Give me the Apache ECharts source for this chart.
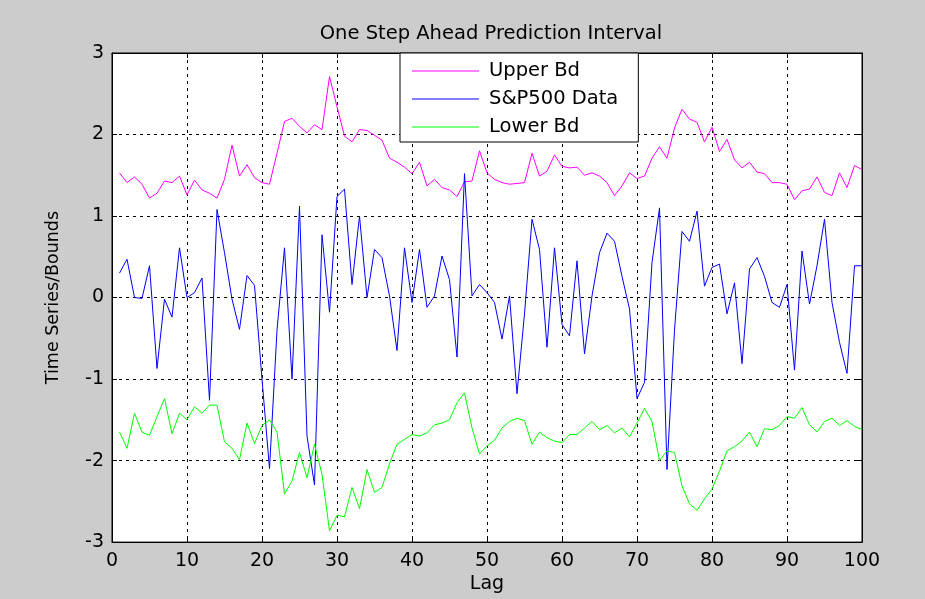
<!DOCTYPE html>
<html>
<head>
<meta charset="utf-8">
<script src="https://cdn.jsdelivr.net/npm/echarts@6/dist/echarts.min.js"></script>
<style>
  html, body { margin: 0; padding: 0; background: #cccccc; }
  #chart { width: 925px; height: 599px; }
</style>
</head>
<body>
<div id="chart"></div>
<script>
// x ticks / y ticks
const xTicks = [0, 10, 20, 30, 40, 50, 60, 70, 80, 90, 100];
const yTicks = [-3, -2, -1, 0, 1, 2, 3];
const seriesNames = ["Upper Bd", "S&P500 Data", "Lower Bd"];

// values, lag 1..100
const upperBd = [
  1.53, 1.41, 1.48, 1.39, 1.22, 1.28, 1.43, 1.41, 1.49, 1.26,
  1.44, 1.32, 1.28, 1.22, 1.45, 1.87, 1.49, 1.63, 1.47, 1.41,
  1.39, 1.77, 2.16, 2.20, 2.10, 2.02, 2.12, 2.06, 2.71, 2.34,
  1.98, 1.91, 2.06, 2.05, 1.99, 1.93, 1.71, 1.66, 1.60, 1.52,
  1.66, 1.37, 1.45, 1.35, 1.32, 1.24, 1.42, 1.43, 1.80, 1.53,
  1.45, 1.41, 1.39, 1.40, 1.41, 1.77, 1.49, 1.55, 1.75, 1.61,
  1.59, 1.60, 1.50, 1.53, 1.49, 1.41, 1.25, 1.37, 1.53, 1.46,
  1.49, 1.71, 1.85, 1.71, 2.08, 2.31, 2.19, 2.15, 1.91, 2.09,
  1.79, 1.94, 1.69, 1.59, 1.66, 1.54, 1.52, 1.41, 1.41, 1.39,
  1.20, 1.31, 1.33, 1.48, 1.29, 1.25, 1.53, 1.35, 1.62, 1.57
];
const spData = [
  0.30, 0.47, 0.00, -0.01, 0.39, -0.87, -0.02, -0.24, 0.61, 0.00,
  0.06, 0.24, -1.26, 1.08, 0.55, -0.02, -0.39, 0.27, 0.15, -1.00,
  -2.10, -0.40, 0.61, -1.00, 1.12, -1.70, -2.30, 0.77, -0.18, 1.24,
  1.33, 0.16, 1.00, 0.00, 0.59, 0.49, 0.02, -0.65, 0.61, -0.06,
  0.59, -0.12, 0.02, 0.51, 0.22, -0.73, 1.52, 0.02, 0.16, 0.06,
  -0.06, -0.51, 0.02, -1.18, -0.20, 0.96, 0.59, -0.61, 0.61, -0.33,
  -0.47, 0.45, -0.69, 0.02, 0.55, 0.79, 0.69, 0.26, -0.14, -1.24,
  -1.04, 0.43, 1.10, -2.11, -0.40, 0.81, 0.69, 1.06, 0.14, 0.37,
  0.41, -0.20, 0.18, -0.81, 0.35, 0.49, 0.26, -0.06, -0.12, 0.16,
  -0.89, 0.57, -0.08, 0.39, 0.96, -0.06, -0.55, -0.93, 0.39, 0.39
];
const lowerBd = [
  -1.65, -1.85, -1.42, -1.65, -1.69, -1.46, -1.24, -1.67, -1.42, -1.50,
  -1.34, -1.42, -1.32, -1.32, -1.77, -1.85, -1.99, -1.54, -1.79, -1.57,
  -1.50, -1.65, -2.41, -2.25, -1.90, -2.21, -1.80, -2.17, -2.86, -2.67,
  -2.69, -2.33, -2.59, -2.11, -2.39, -2.33, -2.04, -1.80, -1.74, -1.68,
  -1.70, -1.66, -1.56, -1.54, -1.50, -1.29, -1.17, -1.60, -1.92, -1.82,
  -1.75, -1.60, -1.52, -1.48, -1.51, -1.80, -1.65, -1.72, -1.76, -1.78,
  -1.68, -1.68, -1.60, -1.52, -1.62, -1.57, -1.66, -1.60, -1.71, -1.54,
  -1.36, -1.52, -2.00, -1.88, -1.90, -2.31, -2.53, -2.61, -2.47, -2.35,
  -2.13, -1.88, -1.83, -1.76, -1.65, -1.83, -1.61, -1.62, -1.57, -1.46,
  -1.48, -1.35, -1.56, -1.65, -1.52, -1.48, -1.57, -1.51, -1.58, -1.62
];

function pairs(arr) {
  return arr.map((v, i) => [i + 1, v]);
}

const chart = echarts.init(document.getElementById("chart"));
const font = "DejaVu Sans";
const gridLine = { show: true, lineStyle: { color: "#000", type: [3, 4], width: 1 } };

const option = {
  backgroundColor: "#cccccc",
  animation: false,
  title: {
    text: "One Step Ahead Prediction Interval",
    left: 486,
    textAlign: "center",
    top: 19,
    textStyle: { fontFamily: font, fontSize: 19.5, fontWeight: "normal", color: "#000" }
  },
  legend: {
    data: seriesNames,
    orient: "vertical",
    left: 400,
    top: 53,
    padding: [8, 20, 5, 12],
    itemGap: 8,
    itemWidth: 67,
    itemHeight: 1,
    icon: "rect",
    backgroundColor: "#fff",
    borderColor: "#000",
    borderWidth: 1,
    textStyle: { fontFamily: font, fontSize: 19.5, color: "#000", padding: [0, 0, 0, 5] }
  },
  grid: { left: 112, right: 63, top: 53, bottom: 54, show: true, borderColor: "#000", borderWidth: 1, backgroundColor: "#fff" },
  xAxis: [
    {
      type: "value", min: 0, max: 100, interval: 10,
      name: "Lag", nameLocation: "middle", nameGap: 29,
      nameTextStyle: { fontFamily: font, fontSize: 19, color: "#000" },
      axisLine: { onZero: false, lineStyle: { color: "#000" } },
      axisTick: { inside: true, length: 5, lineStyle: { color: "#000" } },
      axisLabel: { margin: 9, fontFamily: font, fontSize: 19, color: "#000",
        formatter: v => xTicks.indexOf(v) >= 0 ? String(v) : "" },
      splitLine: gridLine
    },
    {
      type: "value", min: 0, max: 100, interval: 10, position: "top",
      axisLine: { onZero: false, lineStyle: { color: "#000" } },
      axisTick: { inside: true, length: 5, lineStyle: { color: "#000" } },
      axisLabel: { show: false }, splitLine: { show: false }
    }
  ],
  yAxis: [
    {
      type: "value", min: -3, max: 3, interval: 1,
      name: "Time Series/Bounds", nameLocation: "middle", nameGap: 50,
      nameTextStyle: { fontFamily: font, fontSize: 17.5, color: "#000" },
      axisLine: { show: true, onZero: false, lineStyle: { color: "#000" } },
      axisTick: { show: true, inside: true, length: 5, lineStyle: { color: "#000" } },
      axisLabel: { margin: 8, fontFamily: font, fontSize: 19, color: "#000",
        formatter: v => yTicks.indexOf(v) >= 0 ? String(v) : "" },
      splitLine: gridLine
    },
    {
      type: "value", min: -3, max: 3, interval: 1, position: "right",
      axisLine: { show: true, onZero: false, lineStyle: { color: "#000" } },
      axisTick: { show: true, inside: true, length: 5, lineStyle: { color: "#000" } },
      axisLabel: { show: false }, splitLine: { show: false }
    }
  ],
  color: ["#ff00ff", "#0000ff", "#00ff00"],
  series: [
    { name: seriesNames[0], type: "line", symbol: "none", lineStyle: { width: 1 }, data: pairs(upperBd) },
    { name: seriesNames[1], type: "line", symbol: "none", lineStyle: { width: 1 }, data: pairs(spData) },
    { name: seriesNames[2], type: "line", symbol: "none", lineStyle: { width: 1 }, data: pairs(lowerBd) }
  ]
};
chart.setOption(option);
</script>
</body>
</html>
